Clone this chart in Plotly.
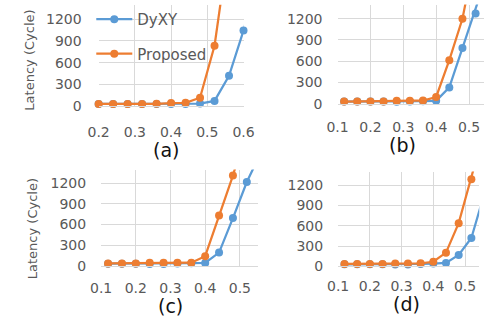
import plotly.graph_objects as go

W, H = 496, 326

# ---- data ----
xa = [0.20, 0.24, 0.28, 0.32, 0.36, 0.40, 0.44, 0.48, 0.52, 0.56, 0.60, 0.64]
a_dyxy = [30, 30, 30, 30, 30, 28, 28, 35, 72, 420, 1045, 1800]
a_prop = [30, 30, 30, 30, 32, 42, 45, 116, 834, 2250]

xb = [0.12, 0.16, 0.20, 0.24, 0.28, 0.32, 0.36, 0.40, 0.44, 0.48, 0.52, 0.56]
b_dyxy = [30, 30, 30, 30, 28, 32, 35, 40, 230, 785, 1275, 1900]
b_prop = [30, 30, 30, 30, 40, 42, 45, 95, 615, 1200, 2130]

xc = [0.12, 0.16, 0.20, 0.24, 0.28, 0.32, 0.36, 0.40, 0.44, 0.48, 0.52, 0.56]
c_dyxy = [30, 30, 30, 28, 28, 35, 38, 42, 192, 694, 1219, 1640]
c_prop = [35, 35, 35, 45, 45, 45, 45, 140, 731, 1312, 2000]

xd = [0.12, 0.16, 0.20, 0.24, 0.28, 0.32, 0.36, 0.40, 0.44, 0.48, 0.52, 0.56]
d_dyxy = [30, 30, 30, 30, 28, 28, 35, 40, 50, 168, 418, 1060]
d_prop = [35, 35, 35, 35, 40, 42, 45, 67, 202, 638, 1286, 2000]

series_names = ["DyXY", "Proposed"]
panel_labels = ["(a)", "(b)", "(c)", "(d)"]
y_title = "Latency (Cycle)"
y_ticks = [0, 300, 600, 900, 1200]
xticks_a = [0.2, 0.3, 0.4, 0.5, 0.6]
xticks_bcd = [0.1, 0.2, 0.3, 0.4, 0.5]

BLUE = "#5B9BD5"
ORANGE = "#ED7D31"
GRID = "#D9D9D9"
TXT = "#595959"
FONT = "DejaVu Sans"

# panel geometry in pixels
panels = [
    dict(px=(91.7, 243.3), py=(4.9, 108.8), xr=[0.2, 0.6], ticks=xticks_a, x=xa,
         s=(a_dyxy, a_prop), xs=13, ys=16),
    dict(px=(341.7, 495.0), py=(4.7, 106.3), xr=[0.1, 0.5457], ticks=xticks_bcd, x=xb,
         s=(b_dyxy, b_prop), xs=11, ys=14),
    dict(px=(94.3, 258.0), py=(173.8, 272.5), xr=[0.1, 0.551], ticks=xticks_bcd, x=xc,
         s=(c_dyxy, c_prop), xs=9, ys=14),
    dict(px=(342.3, 490.0), py=(175.9, 273.0), xr=[0.1, 0.5449], ticks=xticks_bcd, x=xd,
         s=(d_dyxy, d_prop), xs=7, ys=14),
]

fig = go.Figure()
layout = {}
for i, p in enumerate(panels):
    k = "" if i == 0 else str(i + 1)
    xdom = [p["px"][0] / W, p["px"][1] / W]
    ydom = [(H - p["py"][1]) / H, (H - p["py"][0]) / H]
    layout["xaxis" + k] = dict(
        domain=xdom, range=p["xr"], anchor="y" + k,
        tickvals=p["ticks"], tickformat=".1f",
        showgrid=True, gridcolor=GRID, gridwidth=1,
        zeroline=False, showline=True, linecolor=GRID, linewidth=1, mirror=False,
        ticks="", ticklabelstandoff=p["xs"],
        tickfont=dict(family=FONT, size=14, color=TXT),
    )
    layout["yaxis" + k] = dict(
        domain=ydom, range=[0, 1400], anchor="x" + k,
        tickvals=y_ticks,
        showgrid=True, gridcolor=GRID, gridwidth=1,
        zeroline=False, showline=False,
        ticks="", ticklabelstandoff=p["ys"],
        tickfont=dict(family=FONT, size=14, color=TXT),
    )
    for j, (vals, col) in enumerate(zip(p["s"], [BLUE, ORANGE])):
        fig.add_trace(go.Scatter(
            x=p["x"][:len(vals)], y=vals, mode="lines+markers",
            name=series_names[j], legendgroup=series_names[j],
            showlegend=(i == 0),
            line=dict(color=col, width=2.25),
            marker=dict(color=col, size=8),
            cliponaxis=False,
            xaxis="x" + k, yaxis="y" + k,
        ))

annotations = []
label_pos = [(162.3, 154), (409.7, 148.5), (166.7, 313.5), (414, 312)]
for lab, (lx, ly) in zip(panel_labels, label_pos):
    annotations.append(dict(
        text=lab, x=lx / W, y=1 - ly / H, xref="paper", yref="paper",
        xanchor="center", yanchor="middle", showarrow=False, borderpad=0,
        font=dict(family=FONT, size=19, color="#111111"),
    ))
for (tx, ty) in [(19.3, 61.7), (23.3, 234.7)]:
    annotations.append(dict(
        text=y_title, x=tx / W, y=1 - ty / H, xref="paper", yref="paper",
        xanchor="center", yanchor="middle", showarrow=False, textangle=-90,
        font=dict(family=FONT, size=13, color=TXT),
    ))

fig.update_layout(
    width=W, height=H,
    margin=dict(l=0, r=0, t=0, b=0),
    paper_bgcolor="white", plot_bgcolor="white",
    showlegend=True,
    legend=dict(
        x=84 / W, y=1 - 3 / H, xanchor="left", yanchor="top",
        bgcolor="rgba(0,0,0,0)", borderwidth=0,
        font=dict(family=FONT, size=15, color=TXT),
        traceorder="grouped", tracegroupgap=12, itemwidth=36,
    ),
    annotations=annotations,
    **layout,
)

fig.write_html("out.html")
